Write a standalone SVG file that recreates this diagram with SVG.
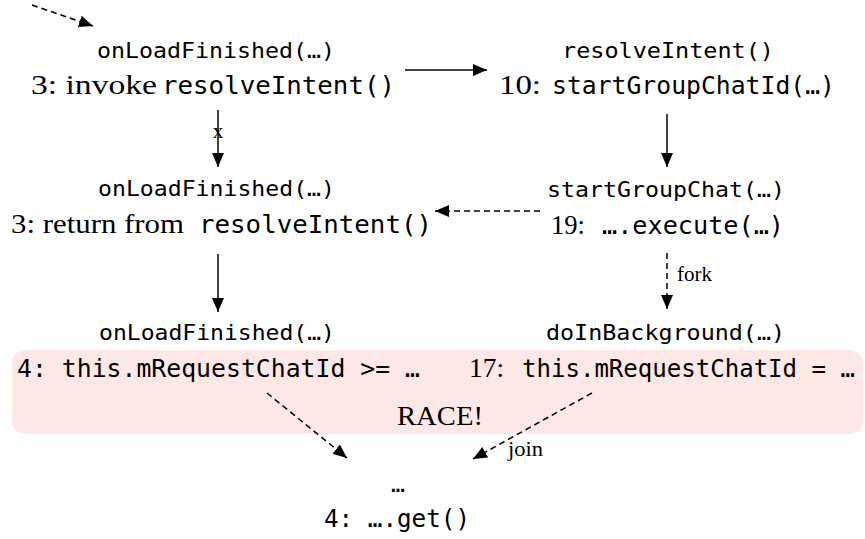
<svg xmlns="http://www.w3.org/2000/svg" width="865" height="539" viewBox="0 0 865 539">
<style>
.m1{font-family:"DejaVu Sans Mono","Liberation Mono",monospace;font-size:22px;fill:#000}
.m2{font-family:"DejaVu Sans Mono","Liberation Mono",monospace;font-size:25px;fill:#000}
.m3{font-family:"DejaVu Sans Mono","Liberation Mono",monospace;font-size:24px;fill:#000}
.s{font-family:"Liberation Serif","Times New Roman",serif;font-size:28px;fill:#000}
.ss{font-family:"Liberation Serif","Times New Roman",serif;font-size:21px;fill:#000}
.e{stroke:#000;stroke-width:1.5;fill:none}
.d{stroke-dasharray:6 4}
</style>
<defs>
<marker id="ah" viewBox="0 0 14 12" refX="14" refY="6" markerWidth="14" markerHeight="12" markerUnits="userSpaceOnUse" orient="auto">
<path d="M0,0 L14,6 L0,12 Z" fill="#000"/>
</marker>
</defs>
<rect x="12" y="350" width="851" height="84" rx="13" fill="#fde8e6"/>
<g id="connectors">
<line class="e d" x1="32" y1="5" x2="93" y2="26" marker-end="url(#ah)"/>
<line class="e" x1="405" y1="70" x2="487" y2="70" marker-end="url(#ah)"/>
<line class="e" x1="218" y1="110" x2="218" y2="167" marker-end="url(#ah)"/>
<text class="ss" x="218" y="138" text-anchor="middle">x</text>
<line class="e" x1="667" y1="114" x2="667" y2="167" marker-end="url(#ah)"/>
<line class="e d" x1="540" y1="211" x2="435" y2="211" marker-end="url(#ah)"/>
<line class="e" x1="218" y1="254" x2="218" y2="312" marker-end="url(#ah)"/>
<line class="e d" x1="667" y1="253" x2="667" y2="309" marker-end="url(#ah)"/>
<text class="ss" x="677" y="281">fork</text>
<line class="e d" x1="267" y1="393" x2="347" y2="458" marker-end="url(#ah)"/>
<line class="e d" x1="592" y1="393" x2="473" y2="459" marker-end="url(#ah)"/>
<text class="ss" x="508" y="456" textLength="35" lengthAdjust="spacingAndGlyphs">join</text>
</g>
<g id="n1">
<text class="m1" x="97" y="58" textLength="238" lengthAdjust="spacingAndGlyphs">onLoadFinished(…)</text>
<text class="s" x="31" y="94" textLength="126" lengthAdjust="spacingAndGlyphs">3: invoke</text>
<text class="m2" x="162" y="94" textLength="233" lengthAdjust="spacingAndGlyphs">resolveIntent()</text>
</g>
<g id="n2">
<text class="m1" x="562" y="58" textLength="212" lengthAdjust="spacingAndGlyphs">resolveIntent()</text>
<text class="s" x="499" y="94" textLength="42" lengthAdjust="spacingAndGlyphs">10:</text>
<text class="m2" x="552" y="94" textLength="283" lengthAdjust="spacingAndGlyphs">startGroupChatId(…)</text>
</g>
<g id="n3">
<text class="m1" x="98" y="196" textLength="237" lengthAdjust="spacingAndGlyphs">onLoadFinished(…)</text>
<text class="s" x="11" y="233" textLength="173" lengthAdjust="spacingAndGlyphs">3: return from</text>
<text class="m2" x="199" y="233" textLength="233" lengthAdjust="spacingAndGlyphs">resolveIntent()</text>
</g>
<g id="n4">
<text class="m1" x="547" y="197" textLength="238" lengthAdjust="spacingAndGlyphs">startGroupChat(…)</text>
<text class="s" x="551" y="234" textLength="34" lengthAdjust="spacingAndGlyphs">19:</text>
<text class="m2" x="602" y="234" textLength="182" lengthAdjust="spacingAndGlyphs">….execute(…)</text>
</g>
<g id="n5">
<text class="m1" x="99" y="340" textLength="236" lengthAdjust="spacingAndGlyphs">onLoadFinished(…)</text>
<text class="m2" x="17" y="377" textLength="403" lengthAdjust="spacingAndGlyphs">4: this.mRequestChatId &gt;= …</text>
</g>
<g id="n6">
<text class="m1" x="546" y="340" textLength="239" lengthAdjust="spacingAndGlyphs">doInBackground(…)</text>
<text class="s" x="469" y="377" textLength="35" lengthAdjust="spacingAndGlyphs">17:</text>
<text class="m3" x="522" y="377" textLength="333" lengthAdjust="spacingAndGlyphs">this.mRequestChatId = …</text>
</g>
<g id="race">
<text class="s" x="397" y="425" textLength="86" lengthAdjust="spacingAndGlyphs">RACE!</text>
</g>
<g id="n7">
<text class="m1" x="391" y="492" textLength="14" lengthAdjust="spacingAndGlyphs">…</text>
<text class="m2" x="324" y="527" textLength="146" lengthAdjust="spacingAndGlyphs">4: ….get()</text>
</g>
</svg>
